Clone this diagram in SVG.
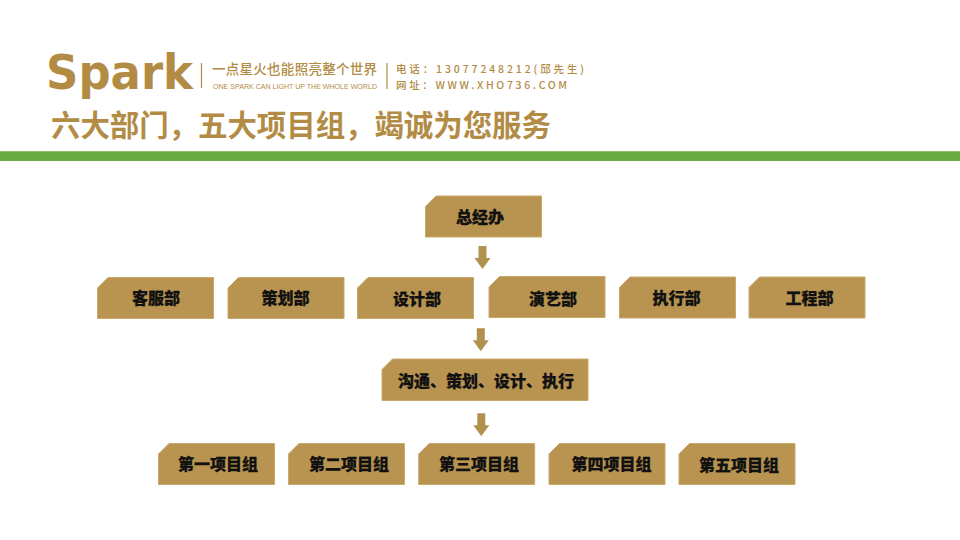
<svg xmlns="http://www.w3.org/2000/svg" width="960" height="540" viewBox="0 0 960 540">
<style>
.box{fill:#b99450;stroke:#c9a86c;stroke-width:1}
.lbl{font-family:"Noto Sans CJK SC","Noto Sans",sans-serif;font-weight:900;font-size:16px;fill:#111;stroke:#111;stroke-width:.25;text-anchor:middle}
.hd{font-family:"Noto Sans CJK SC","Noto Sans",sans-serif;fill:#b28c45}
.arrow{fill:#b2914f}
.div{stroke:#b28c45;stroke-width:1.2}
</style>
<defs>
<path id="b116" d="M10.500 0H116V41H0V10.500Z"/>
<path id="ar" d="M-4 0H4V12H8L0 23L-8 12H-4Z"/>
</defs>
<rect width="960" height="540" fill="#fff"/>
<g id="header">
<text x="46" y="89" class="hd" style="font-family:'DejaVu Sans',sans-serif;font-weight:700;font-size:48px" textLength="147" lengthAdjust="spacingAndGlyphs">Spark</text>
<line class="div" x1="201.500" y1="63" x2="201.500" y2="88"/>
<text x="212" y="74" class="hd" font-size="13.500" font-weight="500" textLength="165" lengthAdjust="spacing">一点星火也能照亮整个世界</text>
<text x="213" y="89" class="hd" style="font-family:'Liberation Sans',sans-serif" font-size="8" textLength="164" lengthAdjust="spacingAndGlyphs">ONE SPARK CAN LIGHT UP THE WHOLE WORLD</text>
<line class="div" x1="387" y1="63" x2="387" y2="89"/>
<text x="396" y="73" class="hd" font-size="10.500" font-weight="500" textLength="188" lengthAdjust="spacing">电话：13077248212(邱先生)</text>
<text x="396" y="89" class="hd" font-size="10.500" font-weight="500" textLength="171" lengthAdjust="spacing">网址：WWW.XHO736.COM</text>
<text x="51" y="136" class="hd" font-size="29.500" font-weight="700" textLength="500" lengthAdjust="spacing">六大部门，五大项目组，竭诚为您服务</text>
<rect x="0" y="151" width="960" height="10" fill="#6bab42"/>
<rect x="0" y="151" width="960" height="1" fill="#8dbf6e"/>
</g>
<g id="connectors">
<use href="#ar" class="arrow" x="482.500" y="246"/>
<use href="#ar" class="arrow" x="480.800" y="328.300"/>
<use href="#ar" class="arrow" x="481.300" y="413.300"/>
</g>
<g id="n-zongjingban"><use href="#b116" class="box" x="425.500" y="196"/><text class="lbl" x="480" y="222.500">总经办</text></g>
<g id="n-kefu"><use href="#b116" class="box" x="97.500" y="277.500"/><text class="lbl" x="156" y="304">客服部</text></g>
<g id="n-cehua"><use href="#b116" class="box" x="228" y="277.500"/><text class="lbl" x="285.500" y="304">策划部</text></g>
<g id="n-sheji"><use href="#b116" class="box" x="357.500" y="277.500"/><text class="lbl" x="417" y="304.500">设计部</text></g>
<g id="n-yanyi"><use href="#b116" class="box" x="489" y="276.500"/><text class="lbl" x="553" y="304.500">演艺部</text></g>
<g id="n-zhixing"><use href="#b116" class="box" x="619.500" y="277"/><text class="lbl" x="676.500" y="304">执行部</text></g>
<g id="n-gongcheng"><use href="#b116" class="box" x="749" y="277"/><text class="lbl" x="809.500" y="304">工程部</text></g>
<g id="n-goutong"><path class="box" d="M392.500 359H588V400.500H382V369.500Z"/><text class="lbl" x="486" y="386.500" textLength="176" lengthAdjust="spacing">沟通、策划、设计、执行</text></g>
<g id="n-p1"><use href="#b116" class="box" x="158.500" y="443.500"/><text class="lbl" x="218" y="470">第一项目组</text></g>
<g id="n-p2"><use href="#b116" class="box" x="288.500" y="443.500"/><text class="lbl" x="349" y="470">第二项目组</text></g>
<g id="n-p3"><use href="#b116" class="box" x="418.700" y="443.500"/><text class="lbl" x="479" y="470">第三项目组</text></g>
<g id="n-p4"><use href="#b116" class="box" x="549" y="443.500"/><text class="lbl" x="611.500" y="470">第四项目组</text></g>
<g id="n-p5"><use href="#b116" class="box" x="679" y="443.500"/><text class="lbl" x="739" y="471">第五项目组</text></g>
</svg>
